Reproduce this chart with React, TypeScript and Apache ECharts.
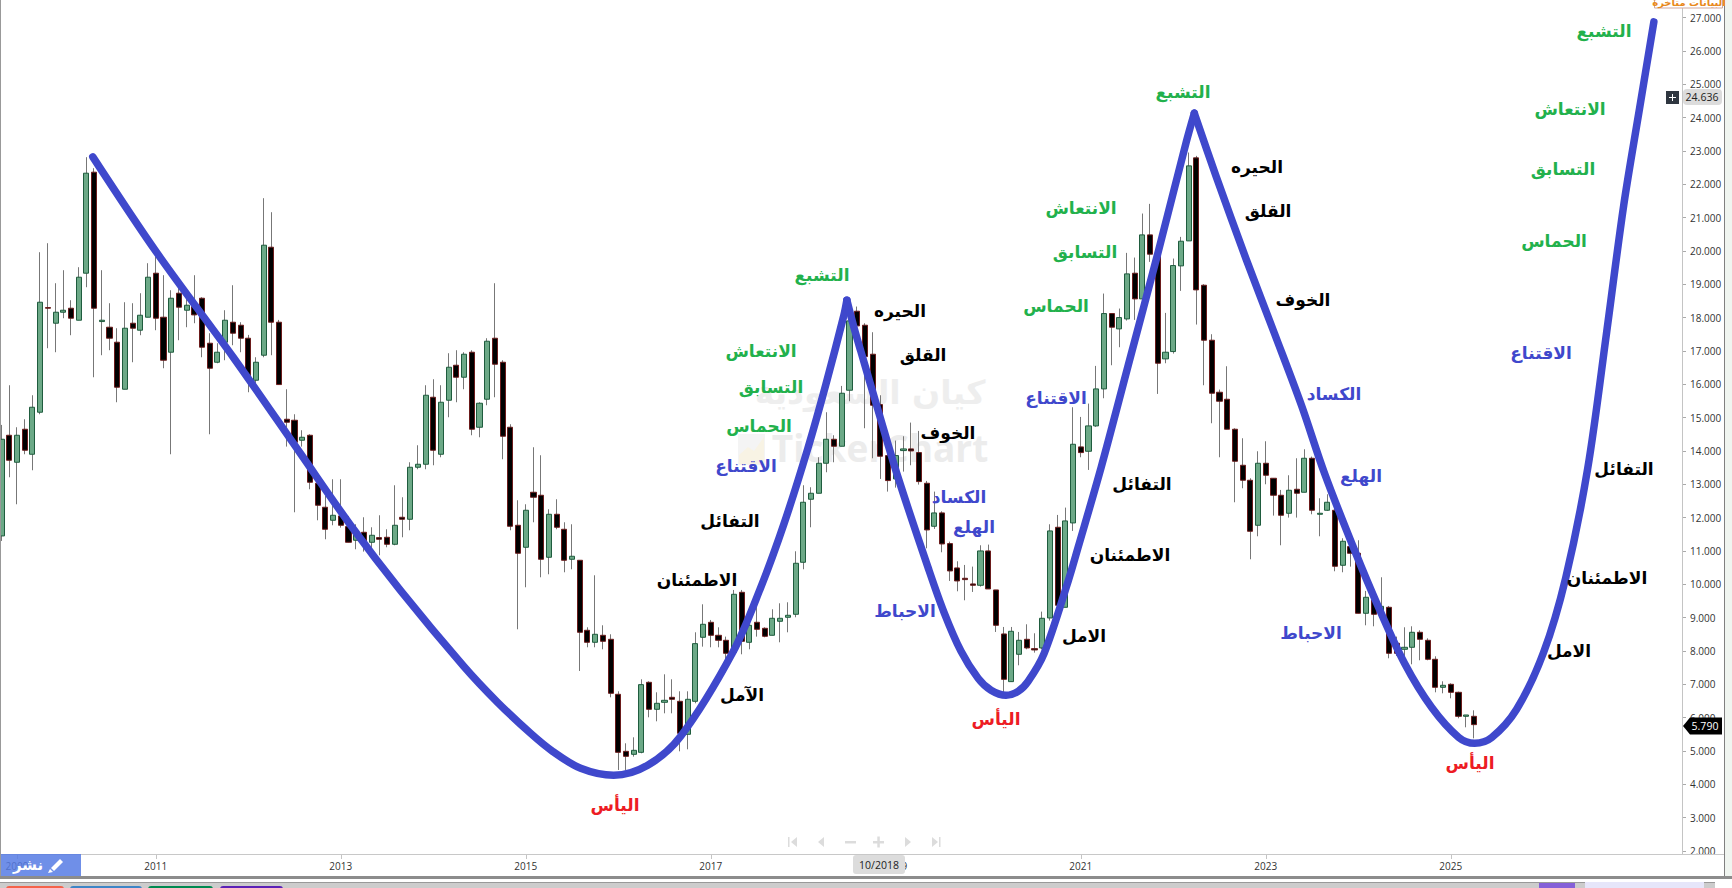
import React, { useEffect, useRef } from "react";
import * as echarts from "echarts";

// ---- monthly candles: [open, close, low, high] ----
const candles2009to2012 = [
  [11.45,14.35,11.3,14.78],[14.47,13.72,13.21,15.97],[13.66,14.47,12.4,14.71],[14.65,14.02,13.9,14.95],[13.9,15.31,13.42,15.67],
  [15.16,18.46,15.1,19.96],[18.3,18.28,17.08,20.23],[17.83,18.16,16.96,19.03],[18.16,18.22,17.98,19.42],[18.28,17.98,17.47,18.52],
  [17.92,19.21,17.92,19.51],[19.33,22.33,18.91,22.81],[22.36,18.28,16.21,22.48],[17.88,17.92,16.87,19.42],[17.71,17.38,17.02,18.43],
  [17.26,15.91,15.46,17.68],[15.85,17.68,15.85,18.46],[17.83,17.68,16.66,18.43],[17.62,18.07,17.47,18.73],[18.01,19.21,18.01,19.63],
  [19.33,17.98,17.62,19.83],[18.01,16.72,16.48,19.27],[16.96,18.58,13.9,18.82],[18.73,18.31,17.32,18.93],[18.22,18.37,17.71,18.63],
  [18.33,18.08,17.83,19.27],[18.58,17.11,16.81,18.61],[17.23,16.48,14.5,17.53],[16.66,16.96,16.63,17.23],[17.26,17.92,16.72,18.22],
  [17.86,17.53,17.17,18.97],[17.77,17.38,16.96,17.86],[17.38,16.13,15.76,17.48],[16.12,16.66,15.93,16.81],[16.87,20.17,16.81,21.58],
  [20.11,17.86,16.87,21.16],[17.86,15.99,15.98,17.93],[14.95,14.86,14.13,15.85],[14.92,14.26,12.16,15.1],
];
const candles2012to2015 = [
  [14.32,14.41,14.13,14.62],[14.47,13.06,12.85,14.5],[13.03,12.37,11.92,13.25],[12.31,11.65,11.35,12.65],[11.92,12.07,11.77,13.15],
  [12.05,11.77,11.7,13.15],[11.73,11.26,11.26,12.05],[11.32,11.48,11.05,11.8],[11.56,11.26,10.98,12.01],[11.26,11.47,11.08,11.71],
  [11.4,11.35,10.87,12.07],[11.41,11.2,11.11,11.65],[11.2,11.77,11.17,12.97],[12.01,11.95,11.41,12.61],[11.95,13.51,11.62,13.66],
  [13.51,13.6,13.45,14.17],[13.6,15.67,13.45,15.97],[15.61,14.02,13.57,16.15],[13.9,15.46,13.81,15.97],[15.52,16.51,15.01,16.93],
  [16.57,16.21,15.46,17.02],[16.21,16.9,15.85,16.96],[16.96,14.65,14.47,17.02],[14.71,15.43,14.41,15.46],[15.55,17.29,15.37,17.38],
  [17.38,16.6,15.61,19.03],[16.66,14.44,13.75,16.72],[14.71,11.74,11.62,14.8],[11.77,10.93,8.65,12.52],[11.11,12.22,9.91,12.4],
  [12.76,12.61,11.86,14.11],[12.67,10.75,10.21,13.87],[10.81,12.1,10.3,12.25],[12.1,11.71,11.65,12.55],[11.65,10.72,10.36,11.86],
  [10.75,10.84,10.45,11.8],[10.72,8.56,7.4,10.72],[8.62,8.26,8.11,8.71],[8.26,8.5,8.11,10.27],
];
const candles2015to2018 = [
  [8.47,8.29,8.05,8.77],[8.35,6.73,6.61,8.5],[6.7,4.96,4.43,6.79],[4.99,4.84,4.43,5.23],[4.9,5.02,4.83,5.41],
  [4.96,6.99,4.93,7.15],[7.06,6.25,6.01,7.09],[6.25,6.43,5.89,6.76],[6.46,6.52,6.13,7.3],[6.61,6.55,6.13,7.15],
  [6.49,5.53,4.99,6.79],[5.5,6.55,5.05,6.79],[6.49,8.22,6.43,8.56],[8.41,8.8,8.13,9.4],[8.86,8.47,8.11,8.93],
  [8.47,8.32,8.11,8.71],[8.32,7.93,7.36,8.43],[7.96,9.7,7.93,9.83],[9.76,8.29,7.9,9.83],[8.26,8.77,8.05,9.08],
  [8.86,8.65,8.43,9.43],[8.68,8.44,8.41,8.71],[8.47,8.98,8.47,9.25],[8.89,8.98,8.26,9.43],[9.01,9.07,8.56,9.46],
  [9.1,10.63,9.01,10.99],[10.66,12.46,10.45,12.97],[12.55,12.73,11.71,12.91],[12.73,13.63,12.73,13.81],[13.63,14.35,13.36,15.16],
  [14.35,14.14,13.66,14.47],[14.14,15.73,14.14,15.95],[15.82,17.9,15.49,18.2],[18.19,17.75,17.5,18.33],[17.77,16.83,14.68,17.83],
  [16.9,15.37,13.78,17.56],
];
const candles2019to2022 = [
  [15.39,13.84,13.16,15.67],[13.86,13.11,12.78,14.31],[13.16,13.86,12.9,14.31],[14.01,14.06,13.38,14.44],[14.06,14.0,13.57,14.85],
  [13.95,13.08,12.99,14.6],[13.03,11.63,11.08,13.1],[11.74,12.14,11.66,12.78],[12.14,11.21,10.96,12.19],[11.22,10.4,10.1,11.28],
  [10.49,10.1,9.79,10.69],[10.18,10.14,9.52,10.58],[10.01,9.97,9.77,10.53],[9.97,11.0,9.93,11.17],[11.0,9.86,9.86,11.19],
  [9.83,8.77,8.57,9.83],[8.51,7.15,6.76,8.72],[7.08,8.59,7.08,8.72],[7.9,8.32,7.57,8.57],[8.35,8.09,8.05,8.8],
  [8.07,8.03,7.95,8.53],[8.09,8.98,8.05,9.18],[8.99,11.6,8.91,11.8],[11.71,9.37,9.34,12.08],[9.31,11.9,9.31,12.3],
  [11.84,14.2,11.6,15.31],[14.12,13.95,13.81,15.02],[13.99,14.75,13.43,15.42],[14.75,15.86,14.72,16.55],[15.86,18.12,15.58,18.72],
  [18.12,17.71,16.57,18.12],[17.66,18.0,17.11,18.27],[17.96,19.31,17.91,19.94],[19.33,18.56,17.93,19.8],[18.56,20.48,18.48,21.12],
  [20.48,19.9,19.67,21.41],[19.88,16.63,15.71,20.1],[16.76,16.96,16.63,18.14],[16.98,19.56,16.92,19.77],[19.55,20.29,18.8,20.42],
  [20.3,22.55,20.3,22.95],[22.79,18.83,17.79,22.85],
];
const candles2022to2025 = [
  [18.97,17.32,15.97,19.0],[17.32,15.73,14.83,17.5],[15.76,15.49,13.81,15.84],[15.55,14.65,14.65,16.54],[14.65,13.69,12.46,14.68],
  [13.57,13.12,12.88,14.38],[13.12,11.59,10.75,13.18],[11.77,13.63,11.44,13.99],[13.63,13.27,13.0,14.29],[13.18,12.67,12.06,13.18],
  [12.67,12.07,11.17,12.83],[12.13,12.82,12.0,13.27],[12.85,12.73,12.0,13.78],[12.76,13.78,12.76,14.05],[13.78,12.22,12.1,13.83],
  [12.1,12.13,11.44,12.58],[12.22,12.46,12.2,12.7],[12.22,10.54,10.39,12.3],[10.57,11.29,10.36,11.38],[11.13,10.93,10.53,11.3],
  [10.93,9.13,9.13,11.32],[9.13,9.61,8.77,9.8],[9.53,9.1,8.74,9.7],[9.13,9.34,9.13,10.21],[9.31,7.93,7.78,9.35],
  [8.23,7.93,7.85,8.43],[8.05,8.11,7.81,8.71],[8.11,8.56,7.6,8.74],[8.56,8.35,7.72,8.62],[8.32,7.75,7.72,8.38],
  [7.75,6.91,6.76,7.84],[6.91,6.97,6.73,7.09],[7.0,6.76,6.58,7.03],[6.76,6.04,5.98,6.78],[6.04,6.08,5.71,6.08],
  [6.04,5.79,5.38,6.22],
];
const candles = [...candles2009to2012, ...candles2012to2015, ...candles2015to2018, ...candles2019to2022, ...candles2022to2025];

// ---- hand-drawn cycle curve: [month index, price] ----
const cycleArc1 = [[11.83,22.82],[20.18,19.93],[30.05,16.81],[38.75,13.93],[45.25,11.78],[51.74,9.82],[59.92,7.55],[64.34,6.46],[68.62,5.53],[71.48,4.99],[75.12,4.48],[79.4,4.27],[83.82,4.57],[88.1,5.44],[94.86,7.96],[98.49,9.91],[101.48,11.8],[104.6,14.08],[106.94,16.0],[109.27,18.07],[109.66,18.52]];
const cycleArc2 = [[109.66,18.52],[110.57,17.71],[111.48,16.98],[113.82,15.13],[116.29,13.21],[120.18,10.51],[122.26,9.16],[124.47,7.99],[126.68,7.18],[128.36,6.82],[130.31,6.67],[131.87,6.79],[133.17,7.09],[135.25,7.93],[138.36,10.09],[139.66,11.11],[142.65,13.51],[146.16,16.57],[150.05,19.97],[153.69,23.27],[154.73,24.13]];
const cycleArc3 = [[154.73,24.13],[157.6,22.21],[161.49,19.73],[165.12,17.53],[168.63,15.37],[171.62,13.33],[175.52,11.02],[178.63,9.31],[182.0,7.63],[185.51,6.31],[189.02,5.41],[191.1,5.23],[193.3,5.4],[196.55,6.25],[200.05,7.96],[202.9,10.18],[205.77,13.48],[208.23,17.57],[210.44,21.37],[212.5,24.28],[214.35,26.87]];

// ---- axes ----
const monthCount = 219;
const tickMonths = ["2009-07","2011-01","2013-01","2015-01","2017-01","2019-01","2021-01","2023-01","2025-01"];
const tickLabels = ["2009","2011","2013","2015","2017","2019","2021","2023","2025"];
const months: string[] = [];
for (let i = 0; i < monthCount; i++) {
  const t = 2009 * 12 + 4 + i;
  months.push(`${Math.floor(t / 12)}-${String((t % 12) + 1).padStart(2, "0")}`);
}

// ---- annotations ----
const stageTexts = ["اليأس","الآمل","الاطمئنان","التفائل","الاقتناع","الحماس","التسابق","الانتعاش","التشبع","الحيره","القلق","الخوف","الكساد","الهلع","الاحباط","اليأس","الامل","الاطمئنان","التفائل","الاقتناع","الحماس","التسابق","الانتعاش","التشبع","الحيره","القلق","الخوف","الكساد","الهلع","الاحباط","اليأس","الامل","الاطمئنان","التفائل","الاقتناع","الحماس","التسابق","الانتعاش","التشبع"];
const stageKinds = "rkkkbgggg" + "kkkbbbr" + "kkkbgggg" + "kkkbbbr" + "kkkbgggg";
const stageSpots = [[615,805],[742,695],[697,580],[730,521],[746,466],[759,426],[771,387],[761,351],[822,275],[900,311],[923,355],[948,433],[959,497],[974,527],[905,611],[996,719],[1084,636],[1130,555],[1142,484],[1056,398],[1056,306],[1085,252],[1081,208],[1183,92],[1257,167],[1268,211],[1303,300],[1334,394],[1361,476],[1311,633],[1470,763],[1569,651],[1607,578],[1624,469],[1541,353],[1554,241],[1563,169],[1570,109],[1604,31]];
const kindColors: Record<string, string> = { r: "#ed1c24", k: "#000000", b: "#3f48cc", g: "#22b14c" };

const AR = '"DejaVu Sans"';
const UI = '"Open Sans"';

function App() {
  const ref = useRef<HTMLDivElement>(null);
  useEffect(() => {
    document.body.style.margin = "0";
    document.body.style.overflow = "hidden";
    const chart = echarts.init(ref.current!, undefined, { renderer: "svg" });
    const centered = { align: "center", textAlign: "center", verticalAlign: "middle", textVerticalAlign: "middle" };
    const rect = (x: number, y: number, w: number, h: number, fill: string, z = 50, r = 0, extra: any = {}) => ({
      type: "rect", z, silent: true, shape: { x, y, width: w, height: h, r }, style: { fill, ...extra },
    });
    const hline = (x1: number, y1: number, x2: number, y2: number, stroke: string, w = 1, z = 50) => ({
      type: "line", z, silent: true, shape: { x1, y1, x2, y2 }, style: { stroke, lineWidth: w },
    });
    const poly = (points: number[][], fill: string, z = 50, opacity = 1) => ({
      type: "polygon", z, silent: true, shape: { points }, style: { fill, opacity },
    });
    const label = (text: string, x: number, y: number, fill: string, font: string, z = 60) => ({
      type: "text", z, silent: true, x, y, style: { text, fill, font, ...centered },
    });
    const navGrey = "#dcdcdc";
    const elements: any[] = [
      // watermark
      label("كيان السعودية", 870, 392, "#eeeeee", `bold 33px ${AR}`, 0),
      label("TickerChart", 880, 447, "#ececec", `bold 37px ${UI}`, 0),
      rect(738, 434, 27, 31, "#f4f4f4", 0),
      poly([[739, 464], [739, 455], [748, 447], [754, 451], [764, 437], [764, 464]], "#f8f3e4", 0),
      // frame
      hline(0.5, 0, 0.5, 876, "#999999"),
      hline(1682.5, 0, 1682.5, 854, "#c4c4c4"),
      rect(1683, 854.5, 41, 22, "#ffffff", 45),
      rect(1725, 0, 7, 876, "#f0f5f0"),
      hline(1724.5, 0, 1724.5, 879, "#808080"),
      hline(1, 854.5, 1724, 854.5, "#c8c8c8", 1, 46),
      rect(0, 876, 1732, 3, "#8c8c8c"),
      rect(0, 882, 1732, 6, "#cccccc"),
      rect(0, 882, 1732, 1, "#999999"),
      rect(6, 886, 58, 6, "#f4624a", 51, 4),
      rect(70, 886, 72, 6, "#3d85c6", 51, 4),
      rect(148, 886, 65, 6, "#008a50", 51, 4),
      rect(220, 886, 63, 6, "#5b21b6", 51, 4),
      rect(1539, 883, 36, 5, "#8560d8", 51),
      rect(1585, 882, 119, 6, "#e6e6fa", 51),
      rect(1715, 882, 17, 6, "#ffffff", 51),
      // publish button
      rect(1, 854, 80, 22, "#567be4", 50, 0, { opacity: 0.85 }),
      label("نشر", 28, 865, "#ffffff", `bold 15px ${AR}`),
      poly([[51, 868], [60, 859], [63, 862], [54, 871]], "#ffffff", 60),
      poly([[48, 873], [50, 869], [53, 872]], "#ffffff", 60),
      // navigation arrows
      rect(788, 837, 1.5, 10, navGrey),
      poly([[797, 837], [797, 847], [791, 842]], navGrey),
      poly([[824, 837], [824, 847], [818, 842]], navGrey),
      rect(845, 841, 11, 2.5, navGrey),
      rect(873, 841, 11, 2.5, navGrey),
      rect(877.3, 836.5, 2.5, 11, navGrey),
      poly([[905, 837], [905, 847], [911, 842]], navGrey),
      poly([[932, 837], [932, 847], [938, 842]], navGrey),
      rect(939, 837, 1.5, 10, navGrey),
      // crosshair labels
      rect(853, 855, 52, 19, "#dcdcdc", 55, 3),
      label("10/2018", 879, 864.5, "#222222", `10.5px ${UI}`),
      rect(1683, 89, 39, 16, "#dcdcdc", 55, 4),
      label("24.636", 1702, 97, "#222222", `10.5px ${UI}`),
      rect(1666, 91, 13, 13, "#2f3640", 55),
      rect(1669, 97, 7, 1, "#ffffff", 56),
      rect(1672, 94, 1, 7, "#ffffff", 56),
      // last price
      poly([[1683, 726], [1690, 717.5], [1722, 717.5], [1722, 734.5], [1690, 734.5]], "#000000", 55),
      label("5.790", 1705, 726, "#ffffff", `10.5px ${UI}`),
      // delayed-data badge
      rect(1654.5, -4, 68, 12, "#ffffff", 55, 0, { stroke: "#cfa9a0", lineWidth: 1 }),
      label("البيانات متأخرة", 1689, 2, "#e8891c", `bold 10px ${AR}`),
      // stage names
      ...stageTexts.map((t, i) => label(t, stageSpots[i][0], stageSpots[i][1], kindColors[stageKinds[i]], `bold 17px ${AR}`)),
    ];

    const isTick = (_: number, v: string) => tickMonths.includes(v);
    const arc = (data: number[][]) => ({
      type: "line", xAxisIndex: 1, yAxisIndex: 0, data, smooth: 0.33, showSymbol: false, symbol: "none", z: 5, clip: false, silent: true,
      lineStyle: { color: "#3f48cc", width: 7.5, cap: "round", join: "round" },
    });
    chart.setOption({
      animation: false,
      backgroundColor: "#ffffff",
      grid: { left: 1.6, right: 1732 - 1682, top: 17.5, bottom: 37, containLabel: false },
      xAxis: [
        {
          type: "category", data: months, boundaryGap: false, offset: 3, position: "bottom",
          axisLine: { show: false, onZero: false },
          axisTick: { show: true, interval: isTick, length: 5, lineStyle: { color: "#c4c4c4" } },
          axisLabel: {
            interval: isTick, hideOverlap: false, margin: 7, color: "#333333", fontSize: 10, fontFamily: "Open Sans",
            formatter: (v: string) => tickLabels[tickMonths.indexOf(v)] ?? "",
          },
          splitLine: { show: false },
        },
        { type: "value", min: 0, max: monthCount - 1, show: false, splitLine: { show: false } },
      ],
      yAxis: {
        type: "value", position: "right", min: 2, max: 27, interval: 1, scale: true,
        axisLine: { show: false, onZero: false },
        axisTick: { show: true, length: 4, lineStyle: { color: "#aaaaaa" } },
        axisLabel: { margin: 8, color: "#333333", fontSize: 10, fontFamily: "Open Sans", formatter: (v: number) => v.toFixed(3) },
        splitLine: { show: false },
      },
      series: [
        {
          type: "candlestick", name: "wicks", xAxisIndex: 0, yAxisIndex: 0, clip: false, silent: true, barWidth: 1, z: 2,
          data: candles,
          itemStyle: { color: "#777777", color0: "#777777", borderColor: "#777777", borderColor0: "#777777", borderWidth: 1 },
        },
        {
          type: "candlestick", name: "bodies", xAxisIndex: 0, yAxisIndex: 0, clip: false, silent: true, barWidth: 5.6, z: 3,
          data: candles.map(([o, c]) => [o, c, Math.min(o, c), Math.max(o, c)]),
          itemStyle: { color: "#6ca987", color0: "#000000", borderColor: "#1f5c3e", borderColor0: "#6b1c1c", borderWidth: 1 },
        },
        arc(cycleArc1),
        arc(cycleArc2),
        arc(cycleArc3),
      ],
      graphic: { elements },
    });
    return () => chart.dispose();
  }, []);
  return <div ref={ref} style={{ position: "absolute", left: 0, top: 0, width: 1732, height: 888 }} />;
}

export default App;
